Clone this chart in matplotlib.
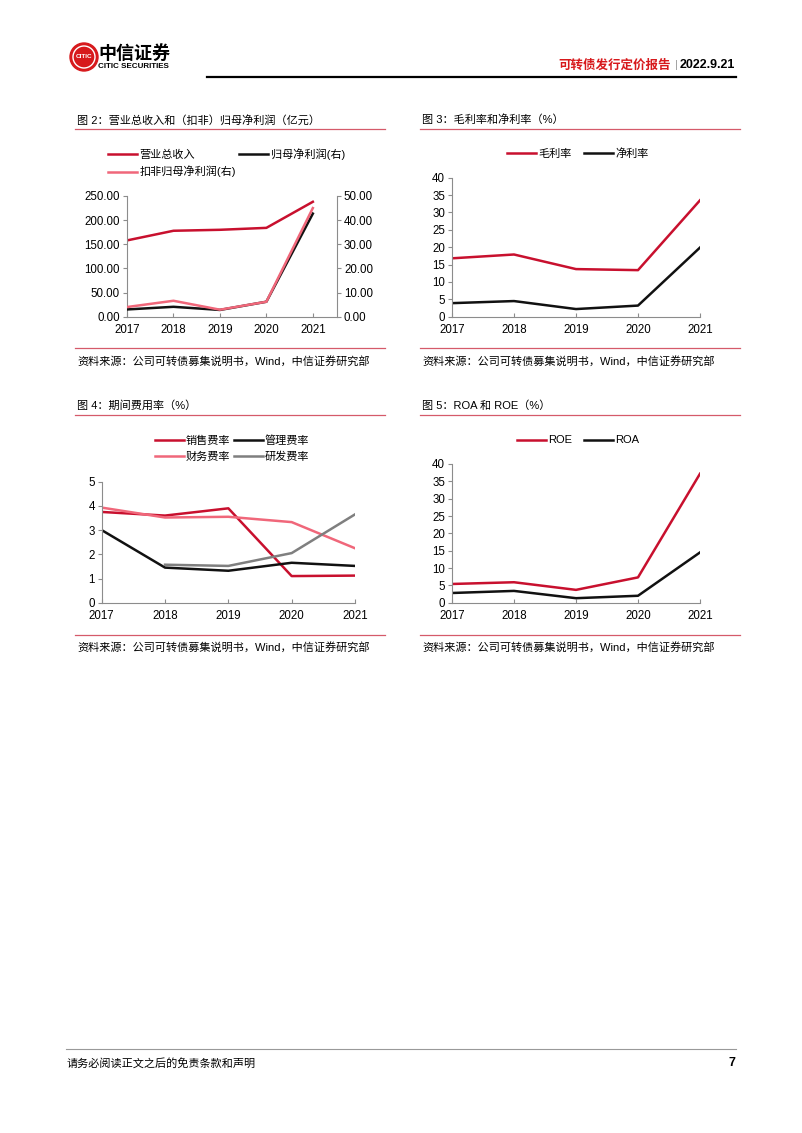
import numpy as np
import matplotlib
matplotlib.use("Agg")
from matplotlib import pyplot as plt
from matplotlib.patches import Ellipse
from matplotlib.lines import Line2D

plt.rcParams['font.family'] = ['Liberation Sans', 'Noto Sans CJK SC', 'DejaVu Sans']

years = [2017, 2018, 2019, 2020, 2021]

# fig 2
revenue = [158, 178, 180, 184, 238]
net_profit = [3.0, 4.1, 2.8, 6.2, 42.7]
net_profit_adj = [4.0, 6.6, 2.9, 6.2, 45.0]

# fig 3
gross_margin = [16.8, 17.9, 13.7, 13.4, 33.5]
net_margin = [3.9, 4.5, 2.2, 3.2, 19.9]

# fig 4
sales_rate = [3.75, 3.6, 3.9, 1.1, 1.12]
admin_rate = [3.0, 1.45, 1.32, 1.65, 1.52]
fin_rate = [3.93, 3.52, 3.55, 3.33, 2.25]
rd_rate = [np.nan, 1.57, 1.52, 2.05, 3.65]

# fig 5
roe = [5.4, 5.9, 3.7, 7.3, 37.2]
roa = [2.8, 3.4, 1.3, 2.0, 14.5]

RED = '#C8102E'
PINK = '#F0677A'
BLACK = '#111111'
GRAY = '#7F7F7F'
SPINE = '#8C8C8C'
RULE = '#D55A6A'

W, H = 802, 1133
fig = plt.figure(figsize=(W / 100, H / 100), dpi=100)


def fx(x):
    return x / W


def fy(y):
    return 1 - y / H


def add_ax(left, top, right, bottom):
    return fig.add_axes([fx(left), fy(bottom), fx(right) - fx(left), fy(top) - fy(bottom)])


def style(ax, ylim, yticks, fmt="{:.0f}"):
    ax.set_ylim(*ylim)
    ax.set_yticks(yticks)
    ax.set_yticklabels([fmt.format(v) for v in yticks], fontsize=8.3)
    ax.set_xticks(years)
    ax.set_xticklabels([str(y) for y in years], fontsize=8.3)
    ax.tick_params(axis='y', direction='out', length=3, color=SPINE, pad=2)
    ax.tick_params(axis='x', direction='in', length=3, color=SPINE, pad=5)
    for s in ['top', 'right']:
        ax.spines[s].set_visible(False)
    for s in ['left', 'bottom']:
        ax.spines[s].set_color(SPINE)
        ax.spines[s].set_linewidth(0.8)
    ax.patch.set_alpha(0)


def frame(x0, x1, title, y_title, y_rule, y_src_rule, y_src):
    fig.text(fx(x0 + 2), fy(y_title), title, fontsize=8, va='center', ha='left')
    fig.add_artist(Line2D([fx(x0), fx(x1)], [fy(y_rule), fy(y_rule)], color=RULE, lw=0.9))
    fig.add_artist(Line2D([fx(x0), fx(x1)], [fy(y_src_rule), fy(y_src_rule)], color=RULE, lw=0.9))
    fig.text(fx(x0 + 2), fy(y_src), "资料来源：公司可转债募集说明书，Wind，中信证券研究部",
             fontsize=8, va='center', ha='left')


def leg_kw(cs):
    return dict(frameon=False, fontsize=8, handlelength=2.6, handletextpad=0.2,
                columnspacing=cs, labelspacing=0.5, borderaxespad=0)


# header
fig.add_artist(Ellipse((fx(84), fy(57)), 28 / W, 28 / H, transform=fig.transFigure,
                       color='#D7191C'))
fig.add_artist(Ellipse((fx(84), fy(57)), 22 / W, 22 / H, transform=fig.transFigure,
                       fill=False, ec='white', lw=1.0))
fig.text(fx(84), fy(57), "CITIC", fontsize=4.6, color='white', weight='bold',
         ha='center', va='center')
fig.text(fx(98), fy(53), "中信证券", fontsize=13, weight='bold', ha='left', va='center',
         family=['Noto Sans CJK SC'])
fig.text(fx(98), fy(67), "CITIC SECURITIES", fontsize=5.8, ha='left', va='center', weight='bold')
fig.text(fx(671), fy(65), "可转债发行定价报告", fontsize=9, color='#D7191C', weight='bold',
         ha='right', va='center', family=['Noto Sans CJK SC'])
fig.text(fx(676), fy(65), "|", fontsize=8, color='#999999', ha='center', va='center')
fig.text(fx(735), fy(65), "2022.9.21", fontsize=9, weight='bold', ha='right', va='center')
fig.add_artist(Line2D([fx(207), fx(736)], [fy(77), fy(77)], color='black', lw=1.6))

# footer
fig.add_artist(Line2D([fx(66), fx(736)], [fy(1049), fy(1049)], color='#999999', lw=0.8))
fig.text(fx(67), fy(1063), "请务必阅读正文之后的免责条款和声明", fontsize=8, ha='left', va='center')
fig.text(fx(735), fy(1063), "7", fontsize=9, weight='bold', ha='right', va='center')

# ---- fig 2
frame(75, 385, "图 2：营业总收入和（扣非）归母净利润（亿元）", 120, 129, 348, 361)
ax1 = add_ax(127, 196, 337, 316.7)
l_rev, = ax1.plot(years, revenue, color=RED, lw=1.8)
ax1.set_xlim(2017, 2021.52)
style(ax1, (0, 250), [0, 50, 100, 150, 200, 250], fmt="{:.2f}")
ax1r = ax1.twinx()
l_np, = ax1r.plot(years, net_profit, color=BLACK, lw=1.8)
l_kf, = ax1r.plot(years, net_profit_adj, color=PINK, lw=1.8)
ax1r.set_ylim(0, 50)
ax1r.set_yticks([0, 10, 20, 30, 40, 50])
ax1r.set_yticklabels(["{:.2f}".format(v) for v in [0, 10, 20, 30, 40, 50]], fontsize=8.3)
ax1r.tick_params(axis='y', direction='out', length=3, color=SPINE, pad=2)
for s in ['top', 'left', 'bottom']:
    ax1r.spines[s].set_visible(False)
ax1r.spines['right'].set_color(SPINE)
ax1r.spines['right'].set_linewidth(0.8)
fig.legend([l_rev, l_kf, l_np], ["营业总收入", "扣非归母净利润(右)", "归母净利润(右)"],
           ncol=2, loc='upper left', bbox_to_anchor=(fx(104), fy(144)), **leg_kw(0.3))

# ---- fig 3
frame(420, 740, "图 3：毛利率和净利率（%）", 120, 129, 348, 361)
ax2 = add_ax(452, 177.7, 700, 316.7)
l_gm, = ax2.plot(years, gross_margin, color=RED, lw=1.8)
l_nm, = ax2.plot(years, net_margin, color=BLACK, lw=1.8)
ax2.set_xlim(2017, 2021)
style(ax2, (0, 40), list(range(0, 41, 5)))
fig.legend([l_gm, l_nm], ["毛利率", "净利率"], ncol=2, loc='upper center',
           bbox_to_anchor=(fx(578), fy(144)), **leg_kw(1.1))

# ---- fig 4
frame(75, 385, "图 4：期间费用率（%）", 406, 415, 635, 647)
ax3 = add_ax(101.7, 481.7, 355, 602.7)
l_s, = ax3.plot(years, sales_rate, color=RED, lw=1.8)
l_a, = ax3.plot(years, admin_rate, color=BLACK, lw=1.8)
l_f, = ax3.plot(years, fin_rate, color=PINK, lw=1.8)
l_r, = ax3.plot(years, rd_rate, color=GRAY, lw=1.8)
ax3.set_xlim(2017, 2021)
style(ax3, (0, 5), [0, 1, 2, 3, 4, 5])
fig.legend([l_s, l_f, l_a, l_r], ["销售费率", "财务费率", "管理费率", "研发费率"], ncol=2,
           loc='upper center', bbox_to_anchor=(fx(232), fy(431)), **leg_kw(0.3))

# ---- fig 5
frame(420, 740, "图 5：ROA 和 ROE（%）", 406, 415, 635, 647)
ax4 = add_ax(452, 464, 700, 602.7)
l_roe, = ax4.plot(years, roe, color=RED, lw=1.8)
l_roa, = ax4.plot(years, roa, color=BLACK, lw=1.8)
ax4.set_xlim(2017, 2021)
style(ax4, (0, 40), list(range(0, 41, 5)))
fig.legend([l_roe, l_roa], ["ROE", "ROA"], ncol=2, loc='upper center',
           bbox_to_anchor=(fx(578), fy(431)), **leg_kw(1.1))

fig.savefig("out.png", dpi=100)
